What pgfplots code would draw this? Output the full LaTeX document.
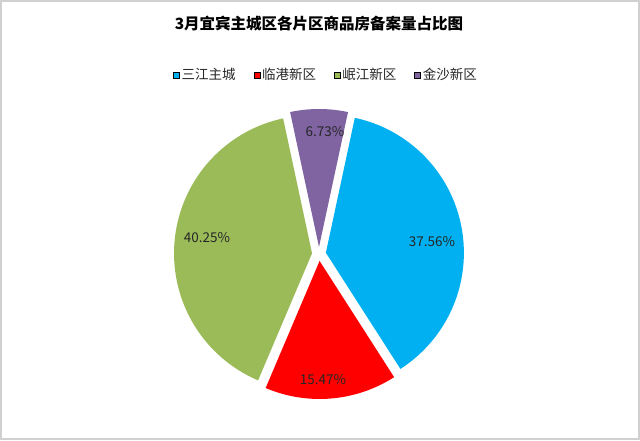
\documentclass[border=0pt]{standalone}
\usepackage{pgfplots}
\usepackage{pgfplotstable}
\pgfplotsset{compat=1.18}
\usepackage{fontspec}
\setmainfont{Noto Sans CJK SC}
\definecolor{cA}{HTML}{00B0F0}
\definecolor{cB}{HTML}{FF0000}
\definecolor{cC}{HTML}{9BBB59}
\definecolor{cD}{HTML}{8064A2}
\definecolor{frame}{HTML}{D0D0D0}
\definecolor{lbl}{HTML}{262626}

\pgfplotstableread{
idx value
0 37.56
1 15.47
2 40.25
3 6.73
}\piedata

\newcommand\pieslice[3]{%
  \pgfmathsetmacro\mA{(#1+#2)/2}%
  \pgfmathsetmacro\cx{319+7*cos(\mA)}%
  \pgfmathsetmacro\cy{186+7*sin(\mA)}%
  \edef\tmp{\noexpand\addplot[fill=#3, draw=none, forget plot, domain=#2:#1, samples=120]
    ({\cx+138*cos(x)},{\cy+138*sin(x)}) -- (axis cs:\cx,\cy) -- cycle;}%
  \tmp}
\newcommand\lgf{\fontsize{13.5}{15}\selectfont}

\begin{document}%
\begin{tikzpicture}
\pgfplotstablegetelem{0}{value}\of\piedata \let\vA\pgfplotsretval
\pgfplotstablegetelem{1}{value}\of\piedata \let\vB\pgfplotsretval
\pgfplotstablegetelem{2}{value}\of\piedata \let\vC\pgfplotsretval
\pgfplotstablegetelem{3}{value}\of\piedata \let\vD\pgfplotsretval
\pgfmathsetmacro\sA{77.9}
\pgfmathsetmacro\sB{\sA-3.6*\vA}
\pgfmathsetmacro\sC{\sB-3.6*\vB}
\pgfmathsetmacro\sD{\sC-3.6*\vC}
\pgfmathsetmacro\sE{\sD-3.6*\vD}
\begin{axis}[
  at={(0pt,0pt)}, anchor=origin,
  x=1pt, y=1pt,
  xmin=0, xmax=640, ymin=0, ymax=440,
  hide axis, clip=false,
  legend columns=4,
  legend image code/.code={\fill[#1] (0pt,-3pt) rectangle (6pt,3pt);},
  legend style={at={(axis cs:326,365)}, anchor=center, draw=none, fill=none,
    font=\lgf, text=lbl,
    nodes={inner xsep=2pt},
    /tikz/every even column/.append style={column sep=16pt},
    /tikz/every odd column/.append style={column sep=0pt}},
]
\draw[frame, line width=2pt] (axis cs:1,1) rectangle (axis cs:639,439);
\pieslice{\sA}{\sB}{cA}
\pieslice{\sB}{\sC}{cB}
\pieslice{\sC}{\sD}{cC}
\pieslice{\sD}{\sE}{cD}
\addlegendimage{fill=cA}\addlegendentry{\lgf 三江主城}
\addlegendimage{fill=cB}\addlegendentry{\lgf 临港新区}
\addlegendimage{fill=cC}\addlegendentry{\lgf 岷江新区}
\addlegendimage{fill=cD}\addlegendentry{\lgf 金沙新区}
\node[font=\fontsize{15.5}{17}\selectfont\bfseries, text=black] at (axis cs:319,416) {3月宜宾主城区各片区商品房备案量占比图};
\node[font=\fontsize{13.5}{14}\selectfont, text=lbl] at (axis cs:432,198) {\vA\%};
\node[font=\fontsize{13.5}{14}\selectfont, text=lbl] at (axis cs:323,60) {\vB\%};
\node[font=\fontsize{13.5}{14}\selectfont, text=lbl] at (axis cs:207,202) {\vC\%};
\node[font=\fontsize{13.5}{14}\selectfont, text=lbl] at (axis cs:325,308) {\vD\%};
\end{axis}
\pgfresetboundingbox
\useasboundingbox (0,0) rectangle (640pt,440pt);
\end{tikzpicture}%
\end{document}
